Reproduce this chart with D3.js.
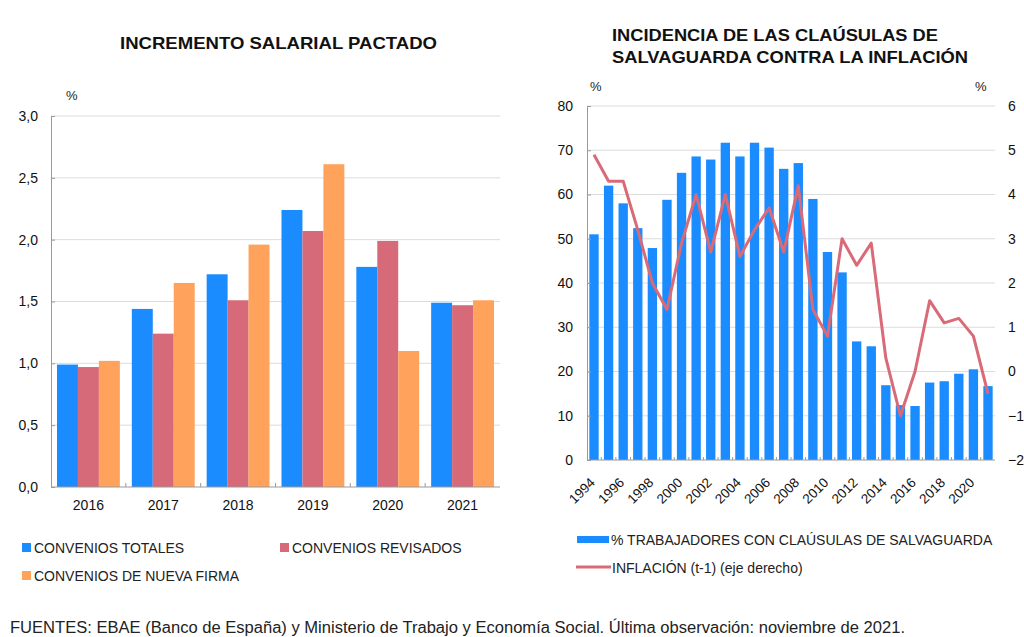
<!DOCTYPE html>
<html>
<head>
<meta charset="utf-8">
<script src="https://cdn.jsdelivr.net/npm/d3@7"></script>
<style>
  body { margin: 0; background: #fff; }
  svg { display: block; font-family: "Liberation Sans", Arial, sans-serif; }
  .title { font-family: "Liberation Sans Narrow", "Liberation Sans", Arial, sans-serif; font-weight: bold; font-size: 16.5px; fill: #111; }
  .tick text { fill: #111; }
  .lbl { fill: #222; }
</style>
</head>
<body>
<svg id="chart" width="1024" height="637"></svg>
<script>
// left chart: incremento salarial pactado
const years = ["2016", "2017", "2018", "2019", "2020", "2021"];
const seriesNames = ["CONVENIOS TOTALES", "CONVENIOS REVISADOS", "CONVENIOS DE NUEVA FIRMA"];
const totales = [0.99, 1.44, 1.72, 2.24, 1.78, 1.49];
const revisados = [0.97, 1.24, 1.51, 2.07, 1.99, 1.47];
const nuevaFirma = [1.02, 1.65, 1.96, 2.61, 1.10, 1.51];
const leftTicks = [0, 0.5, 1, 1.5, 2, 2.5, 3];

// right chart: clausulas de salvaguarda
const salvYears = d3.range(1994, 2022).map(String);
const trabajadores = [51, 62, 58, 52.4, 47.9, 58.8, 64.9, 68.6, 67.9, 71.7, 68.6, 71.7, 70.6, 65.8,
                      67.1, 59, 47, 42.4, 26.8, 25.7, 16.9, 12.4, 12.2, 17.5, 17.8, 19.5, 20.5, 16.7];
const inflacion = [4.9, 4.3, 4.3, 3.2, 2.0, 1.4, 2.9, 4.0, 2.7, 4.0, 2.6, 3.2, 3.7, 2.7,
                   4.2, 1.4, 0.8, 3.0, 2.4, 2.9, 0.3, -1.0, 0.0, 1.6, 1.1, 1.2, 0.8, -0.5];
const rightTicksL = [0, 10, 20, 30, 40, 50, 60, 70, 80];
const rightTicksR = [-2, -1, 0, 1, 2, 3, 4, 5, 6];

const colors = ["#1a8cff", "#d76a78", "#ffa25b"];
const lineColor = "#d96b78";
const gridColor = "#dcdcdc";
const axisColor = "#9a9a9a";

const es = d3.formatLocale({ decimal: ",", thousands: ".", grouping: [3], currency: ["", "€"] });
const fmt1 = es.format(".1f");

const svg = d3.select("#chart");

function styleAxis(g) {
  g.select(".domain").attr("stroke", axisColor);
  g.selectAll(".tick line").attr("stroke", axisColor);
}

// ---------- left chart ----------
const L = { left: 51, right: 500, top: 116, bottom: 487 };

svg.append("text").attr("class", "title")
   .attr("x", 120).attr("y", 49)
   .attr("textLength", 317).attr("lengthAdjust", "spacingAndGlyphs")
   .text("INCREMENTO SALARIAL PACTADO");

svg.append("text").attr("class", "lbl").attr("x", 66).attr("y", 100)
   .style("font-size", "13px").text("%");

const x0 = d3.scaleBand().domain(years).range([L.left, L.right])
             .paddingInner(0.16).paddingOuter(0.08);
const x1 = d3.scaleBand().domain(d3.range(3)).range([0, x0.bandwidth()]);
const yL = d3.scaleLinear().domain([0, 3]).range([L.bottom, L.top]);

svg.append("g").selectAll("line").data(leftTicks.slice(1)).join("line")
   .attr("x1", L.left).attr("x2", L.right)
   .attr("y1", d => yL(d)).attr("y2", d => yL(d))
   .attr("stroke", gridColor);

const groups = [totales, revisados, nuevaFirma];
svg.append("g").selectAll("g").data(years).join("g")
   .attr("transform", d => `translate(${x0(d)},0)`)
   .selectAll("rect").data((d, i) => groups.map((s, k) => ({ k, v: s[i] }))).join("rect")
   .attr("x", d => x1(d.k)).attr("width", x1.bandwidth())
   .attr("y", d => yL(d.v)).attr("height", d => yL(0) - yL(d.v))
   .attr("fill", d => colors[d.k]);

svg.append("g").attr("transform", `translate(${L.left},0)`)
   .call(d3.axisLeft(yL).tickValues(leftTicks).tickFormat(fmt1).tickSizeInner(-4).tickSizeOuter(0).tickPadding(13))
   .call(styleAxis)
   .call(g => g.selectAll(".tick text").style("font-size", "14px").attr("font-family", null));

const xAxisL = svg.append("g").attr("transform", `translate(0,${L.bottom})`)
   .call(d3.axisBottom(x0).tickSize(0).tickPadding(13))
   .call(styleAxis)
   .call(g => g.selectAll(".tick text").style("font-size", "14px").attr("font-family", null));
xAxisL.select(".domain").attr("d", `M${L.left},0H${L.right}`);
// group separator ticks
svg.append("g").selectAll("line").data(years.slice(1)).join("line")
   .attr("x1", d => x0(d) - x0.step() * x0.paddingInner() / 2)
   .attr("x2", d => x0(d) - x0.step() * x0.paddingInner() / 2)
   .attr("y1", L.bottom).attr("y2", L.bottom - 4)
   .attr("stroke", axisColor);

// left legend
const legL = [
  { name: seriesNames[0], c: colors[0], x: 22, y: 553 },
  { name: seriesNames[1], c: colors[1], x: 280, y: 553 },
  { name: seriesNames[2], c: colors[2], x: 22, y: 581 }
];
const lg = svg.append("g").selectAll("g").data(legL).join("g")
   .attr("transform", d => `translate(${d.x},${d.y})`);
lg.append("rect").attr("x", 0).attr("y", -10).attr("width", 9).attr("height", 9).attr("fill", d => d.c);
lg.append("text").attr("class", "lbl").attr("x", 12).attr("y", 0)
  .style("font-size", "14px").text(d => d.name);

// ---------- right chart ----------
const R = { left: 587, right: 995, top: 106, bottom: 460 };

svg.append("text").attr("class", "title")
   .attr("x", 612).attr("y", 41)
   .attr("textLength", 326).attr("lengthAdjust", "spacingAndGlyphs")
   .text("INCIDENCIA DE LAS CLAÚSULAS DE");
svg.append("text").attr("class", "title")
   .attr("x", 612).attr("y", 63)
   .attr("textLength", 356).attr("lengthAdjust", "spacingAndGlyphs")
   .text("SALVAGUARDA CONTRA LA INFLACIÓN");

svg.append("text").attr("class", "lbl").attr("x", 590).attr("y", 91)
   .style("font-size", "13px").text("%");
svg.append("text").attr("class", "lbl").attr("x", 975).attr("y", 91)
   .style("font-size", "13px").text("%");

const xR = d3.scaleBand().domain(salvYears).range([R.left, R.right])
             .paddingInner(0.36).paddingOuter(0.16);
const yR = d3.scaleLinear().domain([0, 80]).range([R.bottom, R.top]);
const yR2 = d3.scaleLinear().domain([-2, 6]).range([R.bottom, R.top]);

svg.append("g").selectAll("line").data(rightTicksL.slice(1)).join("line")
   .attr("x1", R.left).attr("x2", R.right)
   .attr("y1", d => yR(d)).attr("y2", d => yR(d))
   .attr("stroke", gridColor);

svg.append("g").selectAll("rect").data(salvYears).join("rect")
   .attr("x", d => xR(d)).attr("width", xR.bandwidth())
   .attr("y", (d, i) => yR(trabajadores[i]))
   .attr("height", (d, i) => yR(0) - yR(trabajadores[i]))
   .attr("fill", colors[0]);

// small ticks between bars
svg.append("g").selectAll("line").data(salvYears.slice(1)).join("line")
   .attr("x1", d => xR(d) - xR.step() * xR.paddingInner() / 2)
   .attr("x2", d => xR(d) - xR.step() * xR.paddingInner() / 2)
   .attr("y1", R.bottom).attr("y2", R.bottom - 3)
   .attr("stroke", axisColor);

svg.append("path")
   .datum(inflacion)
   .attr("fill", "none").attr("stroke", lineColor).attr("stroke-width", 3)
   .attr("stroke-linejoin", "round")
   .attr("d", d3.line().x((d, i) => xR(salvYears[i]) + xR.bandwidth() / 2).y(d => yR2(d)));

svg.append("g").attr("transform", `translate(${R.left},0)`)
   .call(d3.axisLeft(yR).tickValues(rightTicksL).tickSizeInner(-4).tickSizeOuter(0).tickPadding(14))
   .call(styleAxis)
   .call(g => g.selectAll(".tick text").style("font-size", "14px").attr("font-family", null));

svg.append("g").attr("transform", `translate(${R.right},0)`)
   .call(d3.axisRight(yR2).tickValues(rightTicksR).tickSize(0).tickPadding(13))
   .call(g => g.select(".domain").remove())
   .call(g => g.selectAll(".tick text").style("font-size", "14px").attr("font-family", null));

const xAxisR = svg.append("g").attr("transform", `translate(0,${R.bottom})`)
   .call(d3.axisBottom(xR).tickValues(salvYears.filter((d, i) => i % 2 === 0)).tickSize(0))
   .call(styleAxis)
   .call(g => g.selectAll(".tick text")
     .style("font-size", "13.5px").attr("font-family", null)
     .attr("x", 0).attr("y", 0).attr("dy", "0.35em")
     .attr("text-anchor", "end")
     .attr("transform", "translate(-1.5,20) rotate(-45)"));
xAxisR.select(".domain").attr("d", `M${R.left},0H${R.right}`);

// right legend
svg.append("rect").attr("x", 577).attr("y", 536).attr("width", 32).attr("height", 7).attr("fill", colors[0]);
svg.append("text").attr("class", "lbl").attr("x", 611).attr("y", 545)
   .style("font-size", "14px").text("% TRABAJADORES CON CLAÚSULAS DE SALVAGUARDA");
svg.append("line").attr("x1", 576).attr("x2", 611).attr("y1", 567).attr("y2", 567)
   .attr("stroke", lineColor).attr("stroke-width", 3);
svg.append("text").attr("class", "lbl").attr("x", 612).attr("y", 573)
   .style("font-size", "14px").text("INFLACIÓN (t-1) (eje derecho)");

// footer
svg.append("text").attr("class", "lbl").attr("x", 10).attr("y", 633)
   .attr("textLength", 895).attr("lengthAdjust", "spacingAndGlyphs")
   .style("font-size", "16px")
   .text("FUENTES: EBAE (Banco de España) y Ministerio de Trabajo y Economía Social. Última observación: noviembre de 2021.");
</script>
</body>
</html>
